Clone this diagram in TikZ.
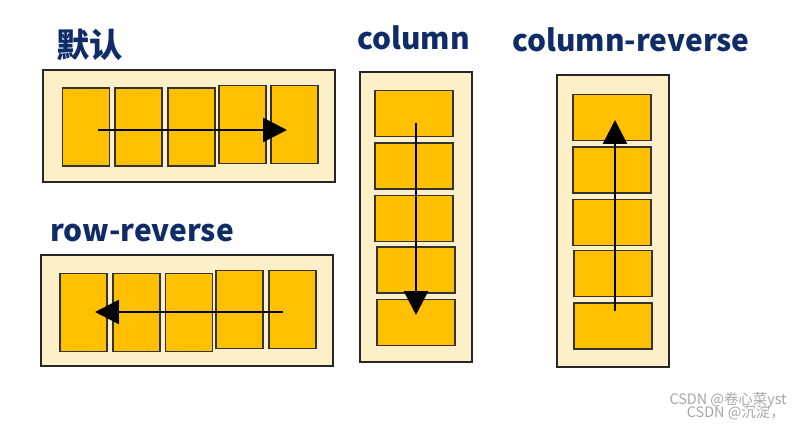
\documentclass[tikz,border=0pt]{standalone}
\usepackage{fontspec}
\newfontfamily\cjk{Noto Sans CJK SC}
\usetikzlibrary{arrows.meta}

\definecolor{cream}{HTML}{FDF0C9}
\definecolor{gold}{HTML}{FFC000}
\definecolor{navy}{HTML}{102C68}

\tikzset{
  outer/.style={draw=black!85, fill=cream, line width=1.3pt},
  cell/.style={draw=black!80, fill=gold, line width=1pt, inner sep=0pt},
  hcell/.style={cell, minimum width=0.94cm, minimum height=1.56cm},
  vcell/.style={cell, minimum width=1.56cm, minimum height=0.92cm},
  title/.style={text=navy, inner sep=0pt, font=\cjk\bfseries\fontsize{17}{20}\selectfont},
  flow/.style={line width=1.5pt, -{Triangle[length=0.48cm, width=0.48cm]}},
  wmark/.style={text=black!35, inner sep=0pt, font=\cjk\fontsize{8.2}{10}\selectfont}
}

\begin{document}
\begin{tikzpicture}[x=0.02cm, y=-0.02cm]
  \useasboundingbox (0,0) rectangle (800,428);

  % default row
  \node[title, anchor=west, font=\cjk\bfseries\fontsize{19}{22}\selectfont] (t-row) at (56,45) {默认};
  \draw[outer] (43,70) rectangle (335,182);
  \foreach \x/\y [count=\i] in {86/127, 138.5/127, 191.5/127, 242.5/124.5, 294.5/124.5}
    {\node[hcell] (d\i) at (\x,\y) {};}
  \coordinate (d-start) at (98,130);
  \coordinate (d-end) at (287,130);
  \draw[flow] (d-start) -- (d-end);

  % row-reverse
  \node[title, anchor=base west] (t-rowrev) at (50,242) {row-reverse};
  \draw[outer] (41,255) rectangle (333,366);
  \foreach \x/\y [count=\i] in {83.5/312.5, 136.5/312.5, 189/312.5, 239.5/309.5, 292.5/309.5}
    {\node[hcell] (r\i) at (\x,\y) {};}
  \coordinate (r-start) at (283,312);
  \coordinate (r-end) at (95,312);
  \draw[flow] (r-start) -- (r-end);

  % column
  \node[title, anchor=base west] (t-col) at (357,50) {column};
  \draw[outer] (360,72) rectangle (472,362);
  \foreach \x/\y [count=\i] in {414/113.5, 414/166, 414/218.5, 416/270, 416/322.5}
    {\node[vcell] (c\i) at (\x,\y) {};}
  \coordinate (c-start) at (416,123);
  \coordinate (c-end) at (416,315);
  \draw[flow] (c-start) -- (c-end);

  % column-reverse
  \node[title, anchor=base west] (t-colrev) at (512,52) {column-reverse};
  \draw[outer] (557,75) rectangle (669,367);
  \foreach \x/\y [count=\i] in {612/117.5, 612/170, 612/222.5, 613/273.5, 613/326}
    {\node[vcell] (k\i) at (\x,\y) {};}
  \coordinate (k-start) at (615,311);
  \coordinate (k-end) at (615,120);
  \draw[flow] (k-start) -- (k-end);

  % watermarks
  \node[wmark, anchor=east] (w1) at (787,400) {CSDN @卷心菜yst};
  \node[wmark, anchor=east] (w2) at (785,413) {CSDN @沉淀，};
\end{tikzpicture}
\end{document}
